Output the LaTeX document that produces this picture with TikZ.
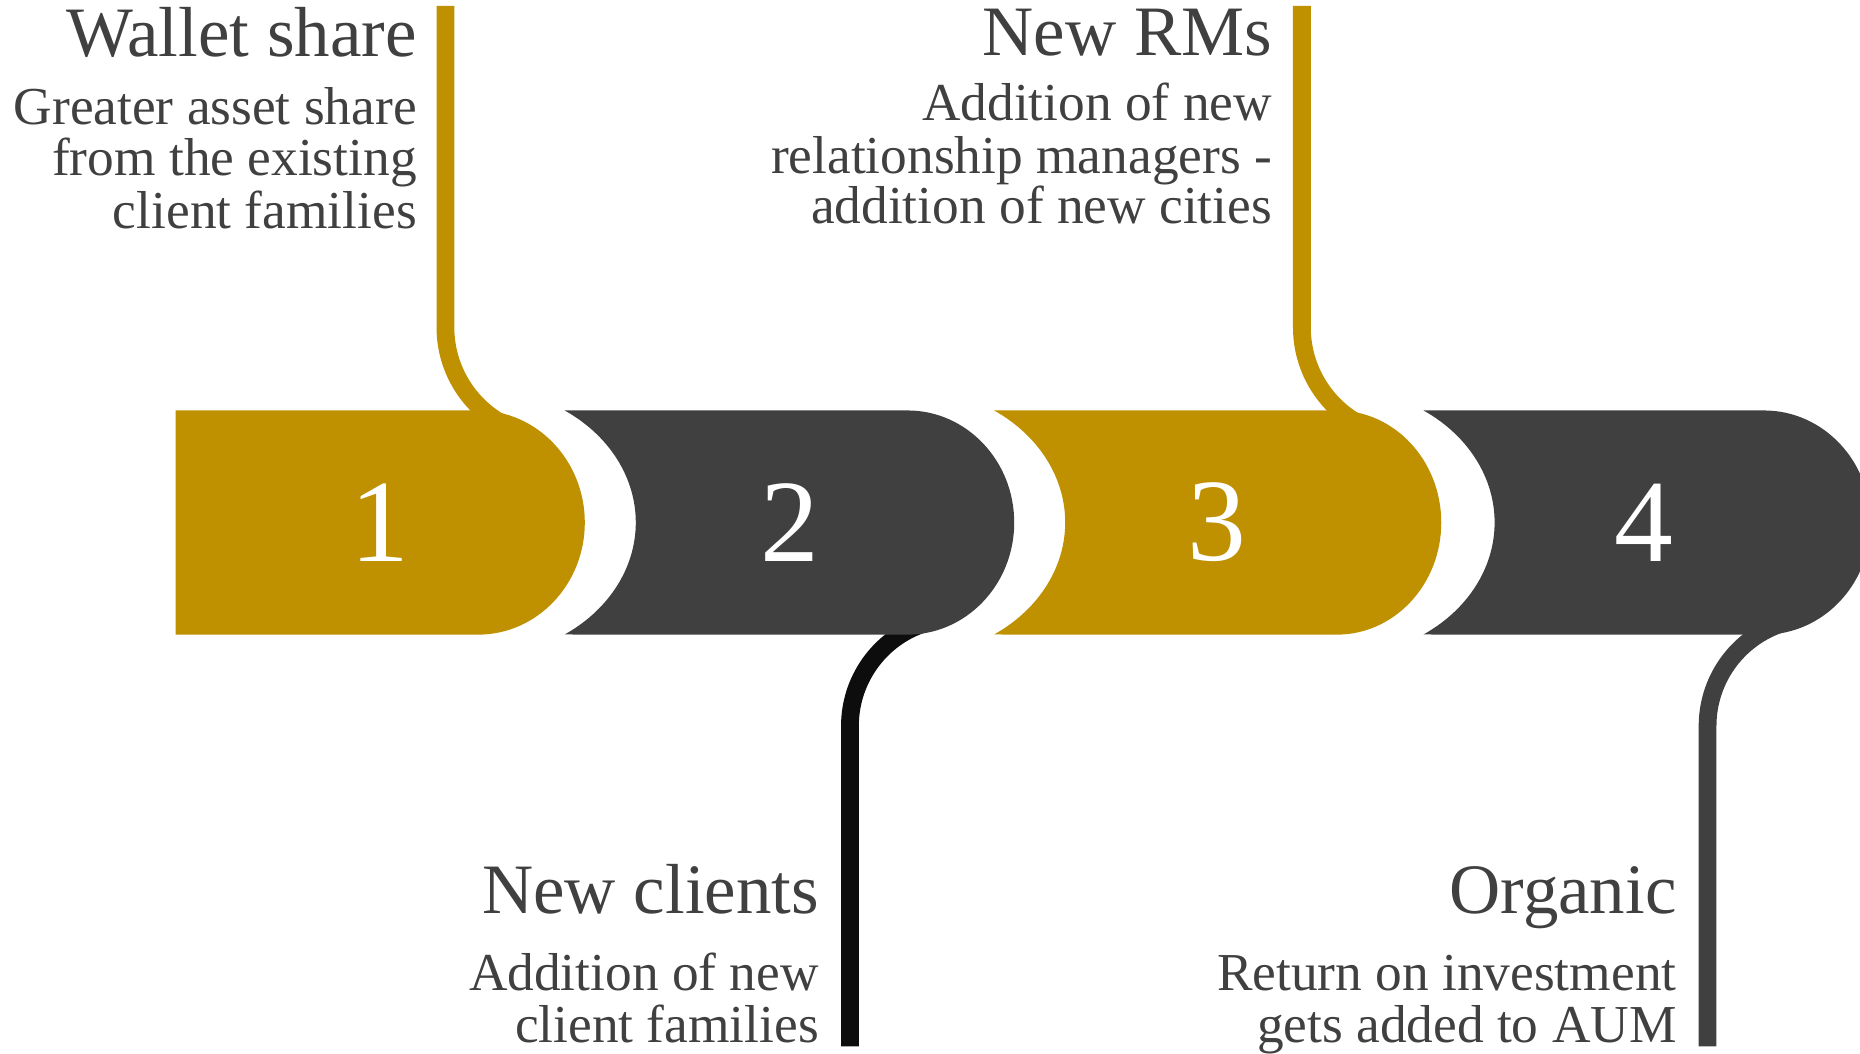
\documentclass[tikz,border=0pt]{standalone}
\usepackage{fontspec}
\setmainfont{Liberation Serif}
\definecolor{gold}{HTML}{BF9000}
\definecolor{darkseg}{HTML}{404040}
\definecolor{blackline}{HTML}{0D0D0D}
\definecolor{txt}{HTML}{404040}
\tikzset{
  conn/.style={line width=1.5mm},
  title/.style={anchor=base east, inner sep=0pt, text=txt, font=\fontsize{17}{18}\selectfont},
  desc/.style={anchor=base east, inner sep=0pt, text=txt, font=\fontsize{12.8}{13}\selectfont},
  num/.style={inner sep=0pt, text=white, font=\fontsize{28.2}{30}\selectfont},
}
\begin{document}
\begin{tikzpicture}[x=0.1mm,y=0.1mm]
\useasboundingbox (0,0) rectangle (1568,-888);
% connectors (drawn beneath the bar)
\draw[conn, gold] (375.5,-5) -- (375.5,-276) arc[start angle=180, end angle=250, radius=92.7];
\draw[conn, blackline] (716.5,-882) -- (716.5,-612) arc[start angle=180, end angle=105, radius=91];
\draw[conn, gold] (1097.5,-5) -- (1097.5,-276) arc[start angle=180, end angle=250, radius=92.7];
\draw[conn, darkseg] (1439.5,-882) -- (1439.5,-612) arc[start angle=180, end angle=105, radius=91];
% segments
\fill[gold] (148,-346) -- (403,-346) arc[start angle=90, end angle=-90, x radius=90, y radius=94.5] -- (148,-535) -- cycle;
\fill[darkseg] (476,-346) arc[start angle=56.7, end angle=-56.7, x radius=133, y radius=113] -- (765,-535) arc[start angle=-90, end angle=90, x radius=90, y radius=94.5] -- cycle;
\fill[gold] (838,-346) arc[start angle=56.7, end angle=-56.7, x radius=133, y radius=113] -- (1127,-535) arc[start angle=-90, end angle=90, x radius=88, y radius=94.5] -- cycle;
\fill[darkseg] (1200,-346) arc[start angle=56.7, end angle=-56.7, x radius=133, y radius=113] -- (1487,-535) arc[start angle=-90, end angle=90, x radius=90, y radius=94.5] -- cycle;
% numbers
\node[num] (n1) at (320,-440.5) {1};
\node[num] (n2) at (666,-440.5) {2};
\node[num] (n3) at (1026,-440.5) {3};
\node[num] (n4) at (1386,-440.5) {4};
% texts
\node[title] (t1) at (352,-48) {Wallet share};
\node[desc] (d1a) at (352,-104.6) {Greater asset share};
\node[desc] (d1b) at (352,-148.2) {from the existing};
\node[desc] (d1c) at (352,-192.5) {client families};
\node[title] (t3) at (1073,-47) {New RMs};
\node[desc] (d3a) at (1073,-101.7) {Addition of new};
\node[desc] (d3b) at (1073,-146) {relationship managers -};
\node[desc] (d3c) at (1073,-188) {addition of new cities};
\node[title] (t2) at (691,-770) {New clients};
\node[desc] (d2a) at (691,-835) {Addition of new};
\node[desc] (d2b) at (691,-879) {client families};
\node[title] (t4) at (1414,-770) {Organic};
\node[desc] (d4a) at (1414,-835) {Return on investment};
\node[desc] (d4b) at (1414,-879) {gets added to AUM};
\end{tikzpicture}
\end{document}
